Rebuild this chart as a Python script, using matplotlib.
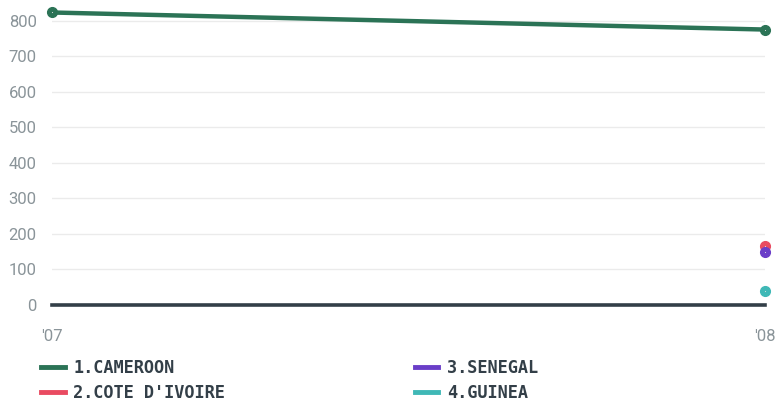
import matplotlib
matplotlib.use("Agg")
import matplotlib.pyplot as plt
from matplotlib.lines import Line2D

years = ["'07", "'08"]
cameroon = [823, 775]
cote_divoire = [None, 166]
senegal = [None, 150]
guinea = [None, 38]

series = [
    ("1.CAMEROON", cameroon, "#2b7356"),
    ("2.COTE D'IVOIRE", cote_divoire, "#e94b61"),
    ("3.SENEGAL", senegal, "#6a3ec8"),
    ("4.GUINEA", guinea, "#3fb8b6"),
]

fig = plt.figure(figsize=(7.78, 4.03), dpi=100)
ax = fig.add_axes([52 / 778, 98 / 403, 713 / 778, 295 / 403])

x = list(range(len(years)))
for name, vals, color in series:
    xs = [i for i, v in zip(x, vals) if v is not None]
    ys = [v for v in vals if v is not None]
    ax.plot(xs, ys, color=color, lw=3.2, marker="o", ms=7, clip_on=False,
            solid_capstyle="round", zorder=3)
    ax.plot(xs, ys, ls="none", marker="o", ms=0.8, mew=0, color="#dddddd",
            clip_on=False, zorder=4)

ax.set_xlim(0, 1)
ax.set_ylim(0, 830)
ax.set_yticks(range(0, 801, 100))
ax.set_xticks(x)
ax.set_xticklabels(years)
ax.grid(axis="y", color="#ebebeb", lw=1)
ax.set_axisbelow(True)
ax.axhline(0, color="#333f48", lw=2.6, zorder=2, clip_on=False)
for s in ax.spines.values():
    s.set_visible(False)
ax.tick_params(length=0, labelsize=12, labelcolor="#8a9499", labelfontfamily="Roboto")
ax.tick_params(axis="y", pad=11)
ax.tick_params(axis="x", pad=17)

handles = [Line2D([], [], color=c, lw=3.5) for _, _, c in series]
labels = [n for n, _, _ in series]
fig.legend(handles, labels, ncol=2, loc="lower left", bbox_to_anchor=(0.033, -0.035),
           frameon=False, handlelength=1.4, handletextpad=0.5, columnspacing=11.2,
           labelspacing=0.4,
           prop={"family": "DejaVu Sans Mono", "weight": "bold", "size": 12.2},
           labelcolor="#333f48")

fig.savefig("out.png", dpi=100)
